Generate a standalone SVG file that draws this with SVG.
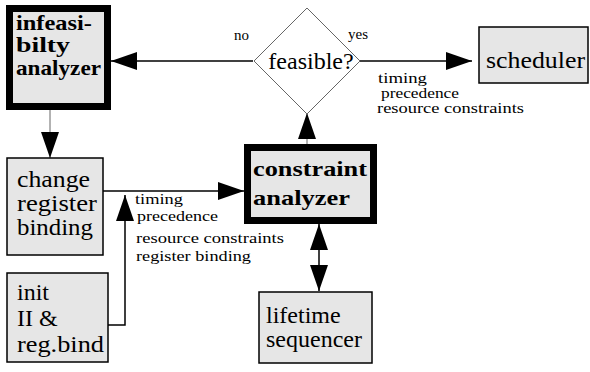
<svg xmlns="http://www.w3.org/2000/svg" width="590" height="372" viewBox="0 0 590 372">
  <style>
    text { font-family: "Liberation Serif", "Times New Roman", serif; fill: #000; }
    .box { fill: #e6e6e6; stroke: #000; stroke-width: 1.5; }
    .heavy { fill: #e6e6e6; stroke: #000; stroke-width: 7; }
    .big { font-size: 24px; }
    .bold { font-size: 21px; font-weight: bold; }
    .lbl { font-size: 15px; }
    .wire { fill: none; stroke: #000; stroke-width: 1.5; }
    .thin { fill: none; stroke: #666; stroke-width: 1; }
  </style>
  <defs>
    <marker id="arrow" markerUnits="userSpaceOnUse" markerWidth="26" markerHeight="18" refX="26" refY="9" orient="auto-start-reverse" viewBox="0 0 26 18">
      <path d="M0,0 L26,9 L0,18 z" fill="#000"/>
    </marker>
  </defs>

  <!-- connectors and their labels -->
  <g id="connectors">
    <line class="wire" x1="253" y1="61" x2="111" y2="61" marker-end="url(#arrow)"/>
    <line class="wire" x1="359" y1="61" x2="472" y2="61" marker-end="url(#arrow)"/>
    <line class="thin" x1="307" y1="144" x2="307" y2="113" marker-end="url(#arrow)"/>
    <line class="thin" x1="50" y1="110" x2="50" y2="158" marker-end="url(#arrow)"/>
    <line class="wire" x1="103" y1="191" x2="244" y2="191" marker-end="url(#arrow)"/>
    <polyline class="wire" points="108,325 125,325 125,195" marker-end="url(#arrow)"/>
    <line class="wire" x1="319" y1="224" x2="319" y2="291" marker-start="url(#arrow)" marker-end="url(#arrow)"/>
    <text class="lbl" x="234" y="40" font-size="16">no</text>
    <text class="lbl" x="348" y="39" font-size="16">yes</text>
    <text class="lbl" x="378" y="83" textLength="49" lengthAdjust="spacingAndGlyphs">timing</text>
    <text class="lbl" x="381" y="98" textLength="78" lengthAdjust="spacingAndGlyphs">precedence</text>
    <text class="lbl" x="377" y="113" textLength="147" lengthAdjust="spacingAndGlyphs">resource constraints</text>
    <text class="lbl" x="135" y="204" textLength="48" lengthAdjust="spacingAndGlyphs">timing</text>
    <text class="lbl" x="137" y="221" textLength="81" lengthAdjust="spacingAndGlyphs">precedence</text>
    <text class="lbl" x="136" y="243" textLength="148" lengthAdjust="spacingAndGlyphs">resource constraints</text>
    <text class="lbl" x="136" y="261" textLength="115" lengthAdjust="spacingAndGlyphs">register binding</text>
  </g>

  <g id="infeasibility-analyzer">
    <rect class="heavy" x="9.5" y="8.5" width="98" height="98"/>
    <text class="bold" x="16" y="30" textLength="76" lengthAdjust="spacingAndGlyphs">infeasi-</text>
    <text class="bold" x="16" y="52" textLength="54" lengthAdjust="spacingAndGlyphs">bilty</text>
    <text class="bold" x="16" y="75" textLength="85" lengthAdjust="spacingAndGlyphs">analyzer</text>
  </g>

  <g id="feasible">
    <polygon points="307,8 360,61 307,114 254,61" fill="#fff" stroke="#666" stroke-width="1"/>
    <text class="big" x="311" y="69" text-anchor="middle">feasible?</text>
  </g>

  <g id="scheduler">
    <rect class="box" x="479" y="27" width="109" height="56"/>
    <text class="big" x="486" y="68" textLength="99" lengthAdjust="spacingAndGlyphs">scheduler</text>
  </g>

  <g id="constraint-analyzer">
    <rect class="heavy" x="247.5" y="147.5" width="126" height="73"/>
    <text class="bold" x="253" y="176" font-size="24" textLength="114" lengthAdjust="spacingAndGlyphs">constraint</text>
    <text class="bold" x="253" y="205" font-size="24" textLength="97" lengthAdjust="spacingAndGlyphs">analyzer</text>
  </g>

  <g id="change-register-binding">
    <rect class="box" x="7" y="158" width="96" height="97"/>
    <text class="big" x="17" y="187" font-size="22" textLength="73" lengthAdjust="spacingAndGlyphs">change</text>
    <text class="big" x="17" y="211" font-size="22" textLength="80" lengthAdjust="spacingAndGlyphs">register</text>
    <text class="big" x="17" y="235" font-size="22" textLength="76" lengthAdjust="spacingAndGlyphs">binding</text>
  </g>

  <g id="init">
    <rect class="box" x="7" y="273" width="101" height="89"/>
    <text class="big" x="17" y="300">init</text>
    <text class="big" x="17" y="326">II &amp;</text>
    <text class="big" x="17" y="352" textLength="87" lengthAdjust="spacingAndGlyphs">reg.bind</text>
  </g>

  <g id="lifetime-sequencer">
    <rect class="box" x="259" y="292" width="113" height="71"/>
    <text class="big" x="266" y="323">lifetime</text>
    <text class="big" x="266" y="347">sequencer</text>
  </g>
</svg>
